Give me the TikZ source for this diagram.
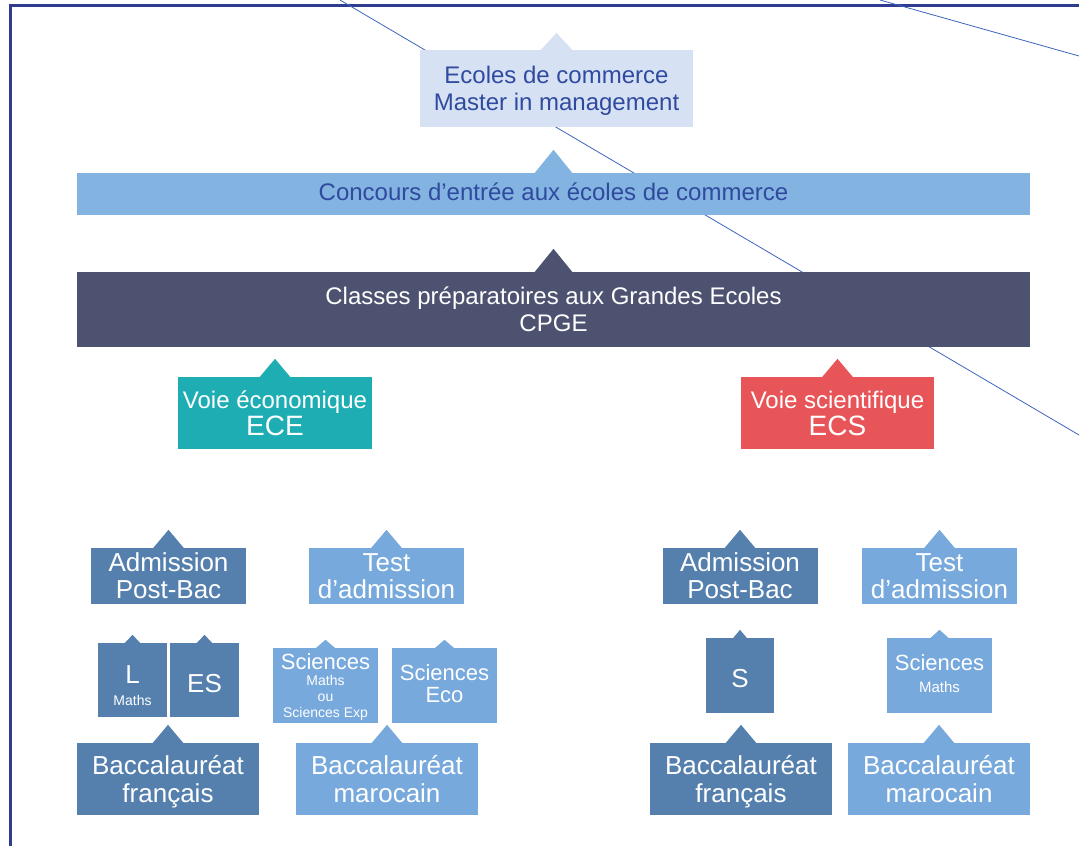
\documentclass[tikz,border=0pt]{standalone}
\usepackage{fontspec}
\setmainfont{Liberation Sans}

\definecolor{frameblue}{HTML}{2E3D8F}
\definecolor{lineblue}{HTML}{3C64BE}
\definecolor{titleblue}{HTML}{2F4A9E}
\definecolor{paleblue}{HTML}{D6E2F4}
\definecolor{bandblue}{HTML}{83B3E0}
\definecolor{slate}{HTML}{4D5270}
\definecolor{ecegreen}{HTML}{1FADB4}
\definecolor{ecsred}{HTML}{E85558}
\definecolor{steeldark}{HTML}{5580AE}
\definecolor{steellight}{HTML}{77A9DC}

\newcommand{\fsz}[2]{\fontsize{#1}{#2}\selectfont}
\newcommand{\notch}[4]{\fill[#2] ([xshift=-#3pt,yshift=-1pt]#1.north) -- ([yshift=#4pt]#1.north) -- ([xshift=#3pt,yshift=-1pt]#1.north) -- cycle;}

\tikzset{
  box/.style={rectangle, inner sep=0pt, align=center, text=white},
  f24/.style={font=\fsz{24}{27}},
  f26/.style={font=\fsz{26}{27}},
  f22/.style={font=\fsz{22}{22}},
}

\begin{document}
\begin{tikzpicture}[x=1pt,y=-1pt]
  \useasboundingbox (0,0) rectangle (1079,846);

  % Rahmen
  \draw[frameblue, line width=3pt] (10,846) -- (10,5) -- (1079,5);

  % Striche
  \coordinate (s1a) at (340,0);
  \coordinate (s1b) at (1079,435);
  \coordinate (s2a) at (880,0);
  \coordinate (s2b) at (1079,56);
  \begin{scope}[lineblue, line width=0.8pt]
    \draw (s1a) -- (s1b);
    \draw (s2a) -- (s2b);
  \end{scope}

  % Oben
  \node[box, text=titleblue, fill=paleblue, minimum width=273pt, minimum height=77pt, f24, text depth=0pt] (ecoles) at (556.5,88.5) {Ecoles de commerce\\Master in management};
  \node[box, text=titleblue, fill=bandblue, minimum width=953pt, minimum height=42pt, f24, text depth=4pt] (concours) at (553.5,194) {Concours d’entrée aux écoles de commerce};
  \node[box, fill=slate, minimum width=953pt, minimum height=75pt, f24] (cpge) at (553.5,309.5) {Classes préparatoires aux Grandes Ecoles\\CPGE};

  % Voies
  \node[box, fill=ecegreen, minimum width=194pt, minimum height=72pt, f24] (ece) at (275,413) {Voie économique\\\fsz{28}{28}ECE};
  \node[box, fill=ecsred, minimum width=193pt, minimum height=72pt, f24] (ecs) at (837.5,413) {Voie scientifique\\\fsz{28}{28}ECS};

  % Admission
  \begin{scope}[minimum width=155pt, minimum height=56pt]
    \node[box, fill=steeldark, f26] (admL) at (168.5,576) {Admission\\Post-Bac};
    \node[box, fill=steellight, f26] (testL) at (386.5,576) {Test\\d’admission};
    \node[box, fill=steeldark, f26] (admR) at (740,576) {Admission\\Post-Bac};
    \node[box, fill=steellight, f26] (testR) at (939.5,576) {Test\\d’admission};
  \end{scope}

  % Series
  \node[box, fill=steeldark, minimum width=69pt, minimum height=74pt, f26, text height=51pt, text depth=0pt] (serL) at (132.5,680) {L\\[-5pt]\fsz{14}{16}Maths};
  \node[box, fill=steeldark, minimum width=69pt, minimum height=74pt, f26, text height=24pt, text depth=0pt] (serES) at (204.5,680) {ES};
  \node[box, fill=steellight, minimum width=105pt, minimum height=75pt, font=\fsz{14}{16}, text depth=0pt] (sciExp) at (325.5,685.5) {\fsz{22}{22}Sciences\\Maths\\ou\\Sciences Exp};
  \node[box, fill=steellight, minimum width=105pt, minimum height=75pt, f22, text depth=4pt] (sciEco) at (444.5,685.5) {Sciences\\Eco};
  \node[box, fill=steeldark, minimum width=68pt, minimum height=75pt, f26, text height=24pt, text depth=0pt] (serS) at (740,675.5) {S};
  \node[box, fill=steellight, minimum width=105pt, minimum height=75pt, font=\fsz{15}{22}, text depth=4pt] (sciMaths) at (939.5,675.5) {\fsz{22}{22}Sciences\\Maths};

  % Bac
  \begin{scope}[minimum width=182pt, minimum height=72pt, text depth=0pt]
    \node[box, fill=steeldark, font=\fsz{26}{28}] (bacL) at (168,779) {Baccalauréat\\français};
    \node[box, fill=steellight, font=\fsz{26}{28}] (marL) at (387,779) {Baccalauréat\\marocain};
    \node[box, fill=steeldark, font=\fsz{26}{28}] (bacR) at (741,779) {Baccalauréat\\français};
    \node[box, fill=steellight, font=\fsz{26}{28}] (marR) at (939,779) {Baccalauréat\\marocain};
  \end{scope}

  % Spitzen
  \notch{ecoles}{paleblue}{16.5}{17}
  \notch{concours}{bandblue}{19.5}{23}
  \notch{cpge}{slate}{19.5}{23}
  \notch{ece}{ecegreen}{16}{18}
  \notch{ecs}{ecsred}{16}{18}
  \foreach \n in {admL,admR,bacL,bacR} {\notch{\n}{steeldark}{16}{18}}
  \foreach \n in {testL,testR,marL,marR} {\notch{\n}{steellight}{16}{18}}
  \notch{serL}{steeldark}{8.5}{8}
  \notch{serES}{steeldark}{8.5}{8}
  \notch{serS}{steeldark}{7.5}{8}
  \notch{sciExp}{steellight}{10.5}{8}
  \notch{sciEco}{steellight}{10.5}{8}
  \notch{sciMaths}{steellight}{10}{8}
\end{tikzpicture}
\end{document}
